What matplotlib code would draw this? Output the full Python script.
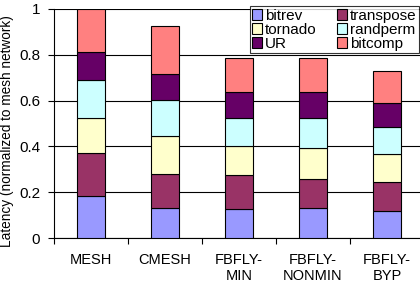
import numpy as np
import matplotlib
matplotlib.use("Agg")
import matplotlib.pyplot as plt

plt.rcParams['font.family'] = ['Liberation Sans', 'DejaVu Sans']

# datos (latencia normalizada a la red mesh)
categorias = ["MESH", "CMESH", "FBFLY-\nMIN", "FBFLY-\nNONMIN", "FBFLY-\nBYP"]
series = ["bitrev", "transpose", "tornado", "randperm", "UR", "bitcomp"]
colores = ["#9999FF", "#993366", "#FFFFCC", "#CCFFFF", "#660066", "#FF8080"]

# valores acumulados (tope de cada segmento)
tope_bitrev = [0.183, 0.132, 0.126, 0.129, 0.120]
tope_transpose = [0.370, 0.278, 0.274, 0.258, 0.246]
tope_tornado = [0.523, 0.447, 0.400, 0.391, 0.365]
tope_randperm = [0.690, 0.601, 0.526, 0.523, 0.485]
tope_UR = [0.811, 0.715, 0.637, 0.637, 0.590]
tope_bitcomp = [1.000, 0.927, 0.787, 0.787, 0.730]

topes = np.array([tope_bitrev, tope_transpose, tope_tornado,
                  tope_randperm, tope_UR, tope_bitcomp])
alturas = np.diff(np.vstack([np.zeros(len(categorias)), topes]), axis=0)

fig = plt.figure(figsize=(4.2, 2.84), dpi=100)
ax = fig.add_axes([54/420, 1 - 238/284, 370/420, 229/284])

x = np.arange(len(categorias))
base = np.zeros(len(categorias))
handles = []
for nombre, color, h in zip(series, colores, alturas):
    b = ax.bar(x, h, bottom=base, width=0.39, color=color,
               edgecolor="black", linewidth=0.8, label=nombre, zorder=3)
    handles.append(b)
    base = base + h

ax.set_xlim(-0.5, len(categorias) - 0.5)
ax.set_ylim(0, 1)
ax.set_yticks([0, 0.2, 0.4, 0.6, 0.8, 1])
ax.set_yticklabels(["0", "0.2", "0.4", "0.6", "0.8", "1"])
ax.set_xticks(np.arange(len(categorias) + 1) - 0.5)
ax.set_xticklabels([])
ax.set_xticks(x, minor=True)
ax.set_xticklabels(categorias, minor=True, fontsize=10.5)
ax.tick_params(axis="x", which="minor", length=0, pad=11)
ax.tick_params(axis="x", which="major", length=4, direction="out", width=0.8)
ax.tick_params(axis="y", length=4, direction="out", width=0.8, labelsize=11, pad=6)
ax.yaxis.grid(True, color="black", linewidth=0.8, zorder=0)
ax.set_axisbelow(True)
for s in ["top", "right"]:
    ax.spines[s].set_visible(False)
ax.spines["left"].set_linewidth(0.8)
ax.spines["bottom"].set_linewidth(0.8)
ax.set_ylabel("Latency (normalized to mesh network)", fontsize=9.8)
ax.yaxis.set_label_coords(-40/370, 0.465)

# orden por columnas para que quede como la leyenda original
orden = [0, 2, 4, 1, 3, 5]
leg = fig.legend([handles[i] for i in orden], [series[i] for i in orden],
                 ncol=2, loc="upper left", bbox_to_anchor=(250/420, 1 - 6.5/284),
                 fontsize=11, frameon=True, fancybox=False, edgecolor="black",
                 handlelength=0.65, handleheight=0.65, handletextpad=0.2,
                 columnspacing=1.3, labelspacing=0.0, borderpad=0.15,
                 borderaxespad=0)
leg.get_frame().set_linewidth(0.8)

fig.savefig("out.png", dpi=100)
